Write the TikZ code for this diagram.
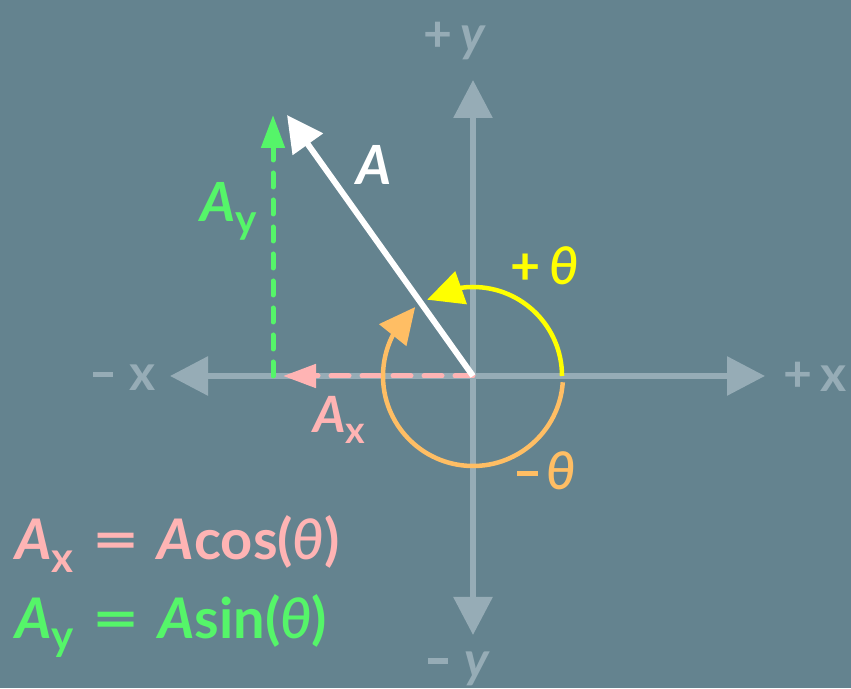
\documentclass[tikz,border=0pt]{standalone}
\usepackage{fontspec}
\setmainfont{Lato}[UprightFont={* Bold}, ItalicFont={* Bold Italic}]
\newfontfamily\winkelfont{Lato}[UprightFont={* Semibold Italic}]
\usepackage{tikz}
\usetikzlibrary{arrows.meta, bending}

\definecolor{grund}{RGB}{100,131,143}
\definecolor{achse}{RGB}{150,172,182}
\definecolor{gruen}{RGB}{85,245,105}
\definecolor{rosa}{RGB}{255,180,180}
\definecolor{orange}{RGB}{255,190,100}
\definecolor{gelb}{RGB}{255,255,0}

\newcommand{\tief}[1]{\raisebox{-0.22em}{\scalebox{0.75}{#1}}}
\newcommand{\minus}{\rule[0.27em]{0.4em}{0.1em}}
\newcommand{\gleich}{\scalebox{1.45}[1]{=}}
\newcommand{\wink}{{\winkelfont θ}}

\begin{document}
\begin{tikzpicture}[x=1pt,y=1pt,
		achsenpfeil/.style={achse, line width=6pt, -{Triangle[length=38pt,width=38pt]}},
		beschr/.style={inner sep=0pt, anchor=base west, font=\fontsize{50}{50}\selectfont},
		strich/.style={line width=5pt, dash pattern=on 14pt off 13pt, line cap=round}]
			% Hintergrund
			\fill[grund] (0,0) rectangle (851,688);
			\useasboundingbox (0,0) rectangle (851,688);
			
			% Punkte
			\coordinate (O) at (473,312);
			\coordinate (xl) at (170,312);
			\coordinate (xr) at (765,312);
			\coordinate (yo) at (473,608);
			\coordinate (yu) at (473,53);
			\coordinate (Aspitze) at (287,573);
			\coordinate (Ayfuss) at (273,312);
			\coordinate (Ayspitze) at (273,573);
			\coordinate (Axspitze) at (283,312);
			
			% Koordinatensystem
			\draw[achsenpfeil] (O) -- (xl);
			\draw[achsenpfeil] (O) -- (xr);
			\draw[achsenpfeil] (O) -- (yo);
			\draw[achsenpfeil] (O) -- (yu);
			
			% Achsenbeschriftung
			\node[beschr, text=achse] (py) at (423,636) {+\,\textit{y}};
			\node[beschr, text=achse] (my) at (428,11) {\minus\,\,\textit{y}};
			\node[beschr, text=achse] (mx) at (93,297) {\minus\,\,x};
			\node[beschr, text=achse] (px) at (783,296) {+\,x};
			
			% Komponenten
			\draw[gruen, strich] (Ayfuss) -- ([yshift=-34pt]Ayspitze);
			\draw[gruen, line width=5pt, -{Triangle[length=33pt,width=23pt]}] ([yshift=-36pt]Ayspitze) -- (Ayspitze);
			\draw[rosa, strich, dash pattern=on 18pt off 13pt] (O) -- ([xshift=34pt]Axspitze);
			\draw[rosa, line width=5pt, -{Triangle[length=33pt,width=23pt]}] ([xshift=36pt]Axspitze) -- (Axspitze);
			
			% Vektor A
			\draw[white, line width=6pt, -{Triangle[length=36pt,width=36pt]}] (O) -- (Aspitze);
			\node[beschr, text=white, font=\fontsize{54}{54}\selectfont] (A) at (356,503) {\textit{A}};
			\node[beschr, text=gruen, font=\fontsize{54}{54}\selectfont] (Ay) at (200,466) {\textit{A}\tief{y}};
			\node[beschr, text=rosa, font=\fontsize{50}{50}\selectfont] (Ax) at (313,255) {\textit{A}\tief{x}};
			
			% Winkel
			\draw[gelb, line width=4.5pt, -{Triangle[length=36pt,width=34pt]}] (O) ++(0:89) arc[start angle=0, end angle=121, radius=89];
			\draw[orange, line width=4.5pt, -{Triangle[length=36pt,width=34pt]}] (O) ++(-4:90) arc[start angle=-4, end angle=-230, radius=90];
			\node[beschr, text=gelb, font=\fontsize{52}{52}\selectfont] (plus) at (510,403) {+\,\wink};
			\node[beschr, text=orange, font=\fontsize{52}{52}\selectfont] (minus) at (517,198) {\minus\,\wink};
			
			% Formeln
			\node[beschr, text=rosa, font=\fontsize{56}{56}\selectfont] (fx) at (15,128) {\textit{A}\tief{x}\,\,\gleich\,\,\textit{A}cos(\wink)};
			\node[beschr, text=gruen, font=\fontsize{56}{56}\selectfont] (fy) at (15,50) {\textit{A}\tief{y}\,\,\gleich\,\,\textit{A}sin(\wink)};
		\end{tikzpicture}
\end{document}
